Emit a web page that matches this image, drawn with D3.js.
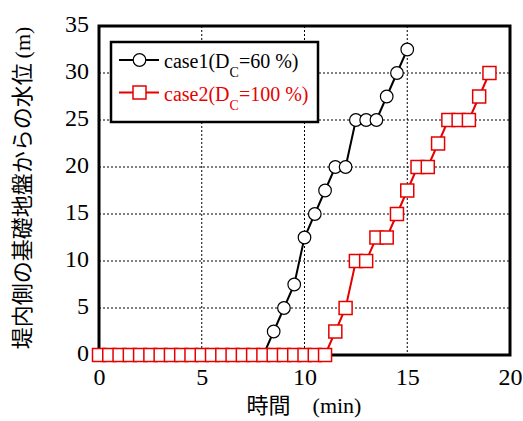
<!DOCTYPE html>
<html>
<head>
<meta charset="utf-8">
<script src="https://cdn.jsdelivr.net/npm/d3@7"></script>
<style>
  body { margin: 0; background: #fff; }
  svg { display: block; }
  .serif { font-family: 'Liberation Serif', 'Times New Roman', Times, serif; }
  .cjk { font-family: 'Noto Sans CJK JP', sans-serif; }
</style>
</head>
<body>
<div id="chart"></div>
<script>
// case1 (Dc = 60 %)
const case1Time = [0, 0.5, 1, 1.5, 2, 2.5, 3, 3.5, 4, 4.5, 5, 5.5, 6, 6.5, 7, 7.5, 8,
  8.5, 9, 9.5, 10, 10.5, 11, 11.5, 12, 12.5, 13, 13.5, 14, 14.5, 15];
const case1Level = [0, 0, 0, 0, 0, 0, 0, 0, 0, 0, 0, 0, 0, 0, 0, 0, 0,
  2.5, 5, 7.5, 12.5, 15, 17.5, 20, 20, 25, 25, 25, 27.5, 30, 32.5];
// case2 (Dc = 100 %)
const case2Time = [0, 0.5, 1, 1.5, 2, 2.5, 3, 3.5, 4, 4.5, 5, 5.5, 6, 6.5, 7, 7.5, 8,
  8.5, 9, 9.5, 10, 10.5, 11, 11.5, 12, 12.5, 13, 13.5, 14, 14.5, 15, 15.5, 16,
  16.5, 17, 17.5, 18, 18.5, 19];
const case2Level = [0, 0, 0, 0, 0, 0, 0, 0, 0, 0, 0, 0, 0, 0, 0, 0, 0,
  0, 0, 0, 0, 0, 0, 2.5, 5, 10, 10, 12.5, 12.5, 15, 17.5, 20, 20,
  22.5, 25, 25, 25, 27.5, 30];
const xTicks = [0, 5, 10, 15, 20];
const yTicks = [0, 5, 10, 15, 20, 25, 30, 35];

const width = 523;
const height = 421;
const red = '#e60000';

const svg = d3.select('#chart').append('svg')
  .attr('width', width)
  .attr('height', height);

// scales
const x = d3.scaleLinear().domain([0, 20]).range([99, 510]);
const y = d3.scaleLinear().domain([0, 35]).range([355, 26]);

// dotted grid
const grid = svg.append('g')
  .attr('stroke', '#000')
  .attr('stroke-width', 1)
  .attr('stroke-dasharray', '2,2');
grid.selectAll('.vgrid')
  .data(xTicks.slice(1, -1))
  .enter().append('line')
  .attr('x1', (d) => x(d)).attr('x2', (d) => x(d))
  .attr('y1', y(35)).attr('y2', y(0));
grid.selectAll('.hgrid')
  .data(yTicks.slice(1, -1))
  .enter().append('line')
  .attr('x1', x(0)).attr('x2', x(20))
  .attr('y1', (d) => y(d)).attr('y2', (d) => y(d));

// axes (labels only)
const xAxis = d3.axisBottom(x).tickValues(xTicks).tickSize(0).tickPadding(0);
const yAxis = d3.axisLeft(y).tickValues(yTicks).tickSize(0).tickPadding(0);

const gx = svg.append('g')
  .attr('transform', `translate(0, ${y(0)})`)
  .call(xAxis)
  .attr('font-family', null)
  .attr('font-size', null);
gx.select('.domain').remove();
gx.selectAll('text')
  .attr('class', 'serif')
  .attr('font-size', 24)
  .attr('fill', '#000')
  .attr('y', 30)
  .attr('dy', 0);

const gy = svg.append('g')
  .attr('transform', `translate(${x(0)}, 0)`)
  .call(yAxis)
  .attr('font-family', null)
  .attr('font-size', null);
gy.select('.domain').remove();
gy.selectAll('text')
  .attr('class', 'serif')
  .attr('font-size', 24)
  .attr('fill', '#000')
  .attr('x', -10)
  .attr('dy', '0.22em');

// frame
svg.append('rect')
  .attr('x', x(0)).attr('y', y(35))
  .attr('width', x(20) - x(0))
  .attr('height', y(0) - y(35))
  .attr('fill', 'none')
  .attr('stroke', '#000')
  .attr('stroke-width', 3);

// series
const line = d3.line().x((d) => x(d[0])).y((d) => y(d[1]));
const case1 = case1Time.map((t, i) => [t, case1Level[i]]);
const case2 = case2Time.map((t, i) => [t, case2Level[i]]);

svg.append('path')
  .datum(case1)
  .attr('d', line)
  .attr('fill', 'none')
  .attr('stroke', '#000')
  .attr('stroke-width', 2);
svg.selectAll('.c1')
  .data(case1)
  .enter().append('circle')
  .attr('cx', (d) => x(d[0]))
  .attr('cy', (d) => y(d[1]))
  .attr('r', 6.3)
  .attr('fill', '#fff')
  .attr('stroke', '#000')
  .attr('stroke-width', 1.2);

svg.append('path')
  .datum(case2)
  .attr('d', line)
  .attr('fill', 'none')
  .attr('stroke', red)
  .attr('stroke-width', 2);
const sq = 13;
svg.selectAll('.c2')
  .data(case2)
  .enter().append('rect')
  .attr('x', (d) => x(d[0]) - sq / 2)
  .attr('y', (d) => y(d[1]) - sq / 2)
  .attr('width', sq)
  .attr('height', sq)
  .attr('fill', '#fff')
  .attr('stroke', red)
  .attr('stroke-width', 1.5);

// legend
const legend = svg.append('g');
legend.append('rect')
  .attr('x', 111).attr('y', 42)
  .attr('width', 207).attr('height', 80)
  .attr('fill', '#fff')
  .attr('stroke', '#000')
  .attr('stroke-width', 2.5);

const entries = [
  { name: 'case1(D', tail: '=60 %)', color: '#000', shape: 'circle', ly: 60 },
  { name: 'case2(D', tail: '=100 %)', color: red, shape: 'square', ly: 92.5 },
];
entries.forEach((e) => {
  legend.append('line')
    .attr('x1', 119).attr('x2', 159)
    .attr('y1', e.ly).attr('y2', e.ly)
    .attr('stroke', e.color)
    .attr('stroke-width', 2);
  if (e.shape === 'circle') {
    legend.append('circle')
      .attr('cx', 139.5).attr('cy', e.ly).attr('r', 6.3)
      .attr('fill', '#fff').attr('stroke', e.color).attr('stroke-width', 1.2);
  } else {
    legend.append('rect')
      .attr('x', 139.5 - sq / 2).attr('y', e.ly - sq / 2)
      .attr('width', sq).attr('height', sq)
      .attr('fill', '#fff').attr('stroke', e.color).attr('stroke-width', 1.5);
  }
  const t = legend.append('text')
    .attr('class', 'serif')
    .attr('x', 164).attr('y', e.ly + 8)
    .attr('font-size', 20)
    .attr('fill', e.color);
  t.append('tspan').text(e.name);
  t.append('tspan').attr('font-size', 14).attr('dy', 9).text('C');
  t.append('tspan').attr('dy', -9).text(e.tail);
});

// axis titles
const xt = svg.append('text')
  .attr('x', 304).attr('y', 413)
  .attr('text-anchor', 'middle')
  .attr('font-size', 22)
  .attr('fill', '#000');
xt.append('tspan').attr('class', 'cjk').text('時間　');
xt.append('tspan').attr('class', 'serif').text('(min)');

const yt = svg.append('text')
  .attr('transform', 'translate(30, 188) rotate(-90)')
  .attr('text-anchor', 'middle')
  .attr('font-size', 22)
  .attr('fill', '#000');
yt.append('tspan').attr('class', 'cjk').text('堤内側の基礎地盤からの水位 ');
yt.append('tspan').attr('class', 'serif').text('(m)');
</script>
</body>
</html>
